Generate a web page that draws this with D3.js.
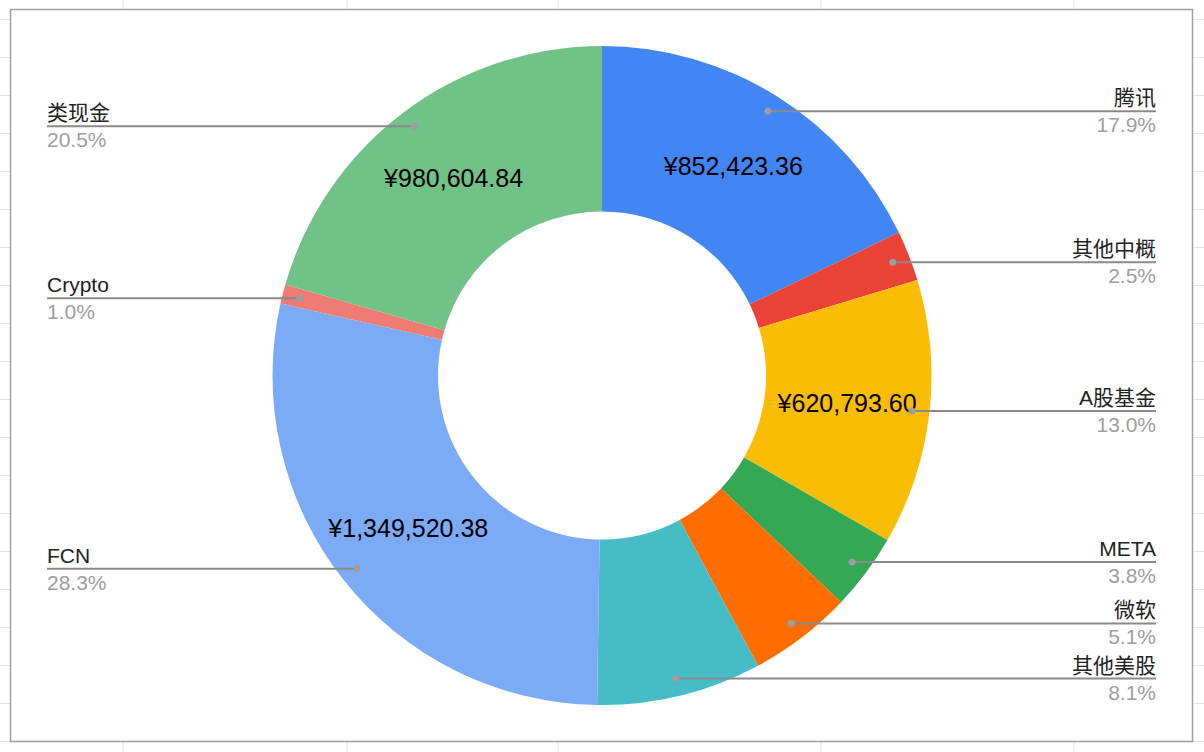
<!DOCTYPE html>
<html>
<head>
<meta charset="utf-8">
<script src="https://cdn.jsdelivr.net/npm/d3@7"></script>
<style>
  html, body { margin: 0; padding: 0; background: #fff; }
  svg { display: block; font-family: "Liberation Sans", Arial, "Noto Sans CJK SC", sans-serif; }
</style>
</head>
<body>
<script>
// chart data
var categories = ["腾讯", "其他中概", "A股基金", "META", "微软", "其他美股", "FCN", "Crypto", "类现金"];
var values = [852423.36, 117500, 620793.60, 179500, 242000, 386000, 1349520.38, 45500, 980604.84];
var colors = ["#4285f4", "#ea4335", "#fbbc04", "#34a853", "#ff6d01", "#46bdc6", "#7baaf7", "#f07b72", "#71c287"];

// spreadsheet grid behind the chart
var gridCols = [123, 347, 558, 821, 1074];
var gridRows = d3.range(19, 760, 38);

var width = 1204, height = 752;

var svg = d3.select("body").append("svg")
  .attr("width", width)
  .attr("height", height);

svg.append("g").selectAll("line.col").data(gridCols).enter().append("line")
  .attr("x1", d => d).attr("x2", d => d)
  .attr("y1", 0).attr("y2", height)
  .attr("stroke", "#e2e2e2").attr("stroke-width", 1);
svg.append("g").selectAll("line.row").data(gridRows).enter().append("line")
  .attr("x1", 0).attr("x2", width)
  .attr("y1", d => d + 0.5).attr("y2", d => d + 0.5)
  .attr("stroke", "#e2e2e2").attr("stroke-width", 1);

// chart box
svg.append("rect")
  .attr("x", 10.5).attr("y", 9.5)
  .attr("width", 1182).attr("height", 732)
  .attr("fill", "#fff")
  .attr("stroke", "#9e9e9e")
  .attr("stroke-width", 1.5);

var cx = 602, cy = 375.5;
var outerR = 329.5, innerR = 164;

var data = categories.map((c, i) => ({ name: c, value: values[i], color: colors[i] }));
var total = d3.sum(values);

var pie = d3.pie().value(d => d.value).sort(null);
var arcs = pie(data);

var arc = d3.arc().innerRadius(innerR).outerRadius(outerR);
var labelArc = d3.arc().innerRadius((innerR + outerR) / 2).outerRadius((innerR + outerR) / 2);
var dotArc = d3.arc().innerRadius(312).outerRadius(312);

var g = svg.append("g").attr("transform", "translate(" + cx + "," + cy + ")");

g.selectAll("path")
  .data(arcs)
  .enter()
  .append("path")
  .attr("d", arc)
  .attr("fill", d => d.data.color);

// money labels on big slices
var money = v => "¥" + d3.format(",.2f")(v);
g.selectAll("text.val")
  .data(arcs.filter(d => d.data.value / total > 0.1))
  .enter()
  .append("text")
  .attr("class", "val")
  .attr("transform", d => "translate(" + labelArc.centroid(d) + ")")
  .attr("text-anchor", "middle")
  .attr("dy", "0.35em")
  .attr("font-size", 25)
  .attr("fill", "#000")
  .text(d => money(d.data.value));

// legend labels with leader lines
var pct = d3.format(".1%");
var leftX = 47, rightX = 1156;
var lg = svg.append("g");

arcs.forEach(function (d) {
  var p = dotArc.centroid(d);
  var px = cx + p[0], py = cy + p[1];
  var mid = (d.startAngle + d.endAngle) / 2;
  var right = mid < Math.PI;
  var ex = right ? rightX : leftX;

  lg.append("line")
    .attr("x1", px).attr("y1", py)
    .attr("x2", ex).attr("y2", py)
    .attr("stroke", "#8a8a8a")
    .attr("stroke-width", 2);
  lg.append("circle")
    .attr("cx", px).attr("cy", py)
    .attr("r", 3.5)
    .attr("fill", "#9e9e9e");
  lg.append("text")
    .attr("x", ex).attr("y", py - 6)
    .attr("text-anchor", right ? "end" : "start")
    .attr("font-size", 21)
    .attr("fill", "#222")
    .text(d.data.name);
  lg.append("text")
    .attr("x", ex).attr("y", py + 21)
    .attr("text-anchor", right ? "end" : "start")
    .attr("font-size", 21)
    .attr("fill", "#9e9e9e")
    .text(pct(d.data.value / total));
});
</script>
</body>
</html>
